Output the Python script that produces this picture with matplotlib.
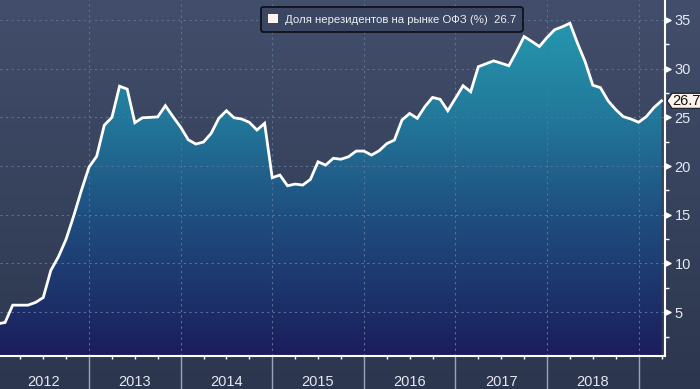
import matplotlib
matplotlib.use("Agg")
import matplotlib.pyplot as plt
import numpy as np
from matplotlib.colors import LinearSegmentedColormap
from matplotlib.patches import Polygon, Rectangle
from matplotlib.path import Path
import matplotlib.transforms as mtransforms

plt.rcParams['font.family'] = ['Liberation Sans Narrow', 'Liberation Sans', 'DejaVu Sans']

# monthly share of non-residents in OFZ market, %, Jan 2012 .. Apr 2019
v2012 = [3.8, 3.94, 5.72, 5.72, 5.72, 6.0, 6.5, 9.3, 10.7, 12.5, 14.9, 17.5]
v2013 = [19.9, 21.0, 24.2, 25.0, 28.2, 27.9, 24.45, 24.96, 25.0, 25.05, 26.2, 25.07]
v2014 = [24.0, 22.7, 22.26, 22.47, 23.36, 24.9, 25.68, 24.96, 24.83, 24.49, 23.7, 24.39]
v2015 = [18.8, 19.08, 17.98, 18.15, 18.05, 18.63, 20.44, 20.1, 20.8, 20.7, 20.96, 21.54]
v2016 = [21.54, 21.13, 21.57, 22.3, 22.67, 24.73, 25.4, 24.9, 26.1, 27.05, 26.85, 25.68]
v2017 = [26.96, 28.25, 27.63, 30.2, 30.5, 30.8, 30.56, 30.3, 31.75, 33.3, 32.8, 32.27]
v2018 = [33.2, 34.0, 34.3, 34.67, 32.6, 30.7, 28.3, 28.05, 26.7, 25.8, 25.07, 24.83]
v2019 = [24.5, 25.07, 26.0, 26.7]
years = [2012, 2013, 2014, 2015, 2016, 2017, 2018, 2019]
label = 'Доля нерезидентов на рынке ОФЗ (%)'

vals = np.array(v2012 + v2013 + v2014 + v2015 + v2016 + v2017 + v2018 + v2019)
x = 2012 + np.arange(len(vals)) / 12.0
last = vals[-1]

W, H = 700, 389
fig = plt.figure(figsize=(7, 3.89), dpi=100)

# background gradient for the whole figure
bg = fig.add_axes([0, 0, 1, 1], zorder=-10)
bg_cmap = LinearSegmentedColormap.from_list('bg', ['#2c364e', '#424e6b'])
bg.imshow(np.linspace(0, 1, 256).reshape(-1, 1), aspect='auto', cmap=bg_cmap,
          origin='lower', extent=[0, 1, 0, 1])
bg.axis('off')

ax = fig.add_axes([0, 1 - 356 / H, 665 / W, 356 / H])
ax.set_facecolor('none')
xmin, xmax = 2012.028, 2019.288
ymin, ymax = 0.5, 37.05
ax.set_xlim(xmin, xmax)
ax.set_ylim(ymin, ymax)

# gradient fill under the line
fill = ax.fill_between(x, vals, ymin, color='none', lw=0)
fill_cmap = LinearSegmentedColormap.from_list(
    'fill', [(0, '#1b1d5c'), (0.4, '#1f4f80'), (0.67, '#22789a'), (0.92, '#2595ad'), (1, '#269bb2')])
img = ax.imshow(np.linspace(0, 1, 256).reshape(-1, 1), aspect='auto', cmap=fill_cmap,
                origin='lower', extent=[xmin, xmax, ymin, ymax], zorder=2)
clip = fill.get_paths()[0]
img.set_clip_path(clip, transform=ax.transData)

ax.plot(x, vals, color='white', lw=2, zorder=4, solid_joinstyle='miter')

# grid
for yv in range(5, 36, 5):
    ax.axhline(yv, color='#587196', lw=0.8, ls=(0, (2, 3)), zorder=3)
for yr in years[1:]:
    ax.axvline(yr, color='#587196', lw=0.8, ls=(0, (2, 3)), zorder=3)

# spines
for s in ['left', 'top']:
    ax.spines[s].set_visible(False)
for s in ['right', 'bottom']:
    ax.spines[s].set_color('white')
    ax.spines[s].set_linewidth(1.5)
    ax.spines[s].set_zorder(5)

# x axis: long separators at years, short quarter ticks
ax.set_xticks(years[1:])
ax.set_xticklabels([])
ax.set_xticks(np.arange(2012.25, 2019.3, 0.25), minor=True)
ax.tick_params(axis='x', which='major', length=24, width=1, color='#9ba3b6', direction='out')
ax.tick_params(axis='x', which='minor', length=2.5, width=1, color='white', direction='out')
ax.xaxis.set_minor_formatter(plt.NullFormatter())
blend_x = mtransforms.blended_transform_factory(ax.transData, fig.transFigure)
for yr in years[:-1]:
    ax.text(yr + 0.5, 1 - 382 / H, str(yr), transform=blend_x, ha='center', va='center',
            color='#e6e8ee', fontsize=10.5)

# y axis on the right
ax.yaxis.tick_right()
yt = list(range(5, 36, 5))
ax.set_yticks(yt)
ax.set_yticks(np.arange(2.5, 36, 5), minor=True)
ax.tick_params(axis='y', which='major', length=0, pad=7, labelsize=10.5, labelcolor='#e6e8ee')
ax.tick_params(axis='y', which='minor', length=3, width=1, color='white', direction='out')
tri = Path([(0, -1), (0, 1), (2, 0), (0, -1)], [Path.MOVETO, Path.LINETO, Path.LINETO, Path.CLOSEPOLY])
blend_y = mtransforms.blended_transform_factory(ax.transAxes, ax.transData)
ax.plot([1.0] * len(yt), yt, transform=blend_y, ls='none', marker=tri, markersize=8,
        color='white', clip_on=False, zorder=6)

# value tag on the right
px, py = ax.transData.transform((xmax, last))
py = H - py
tag = [(667, py), (672, py - 7.5), (702, py - 7.5), (702, py + 7.5), (672, py + 7.5)]
tag = [(a / W, 1 - b / H) for a, b in tag]
fig.add_artist(Polygon(tag, closed=True, transform=fig.transFigure, facecolor='#fdf3ec',
                       edgecolor='#1a1a1a', lw=0.8, zorder=10))
fig.text(686.5 / W, 1 - py / H, f'{last:.1f}', ha='center', va='center', fontsize=10.5,
         color='#111111', zorder=11)

# legend
handle = Rectangle((0, 0), 1, 1, facecolor='#fff2ec', edgecolor='none')
leg = fig.legend([handle], [f'{label}  {last:.1f}'], loc='upper left',
                 bbox_to_anchor=(255 / W, 1 - 1.5 / H), fontsize=8.2, frameon=True,
                 facecolor='#3b4662', edgecolor='#0c0e16', framealpha=1, fancybox=True,
                 handlelength=0.9, handleheight=0.9, handletextpad=0.6, borderpad=0.6,
                 labelcolor='#eceef2')
leg.get_frame().set_linewidth(1.2)

fig.savefig('out.png', dpi=100)
